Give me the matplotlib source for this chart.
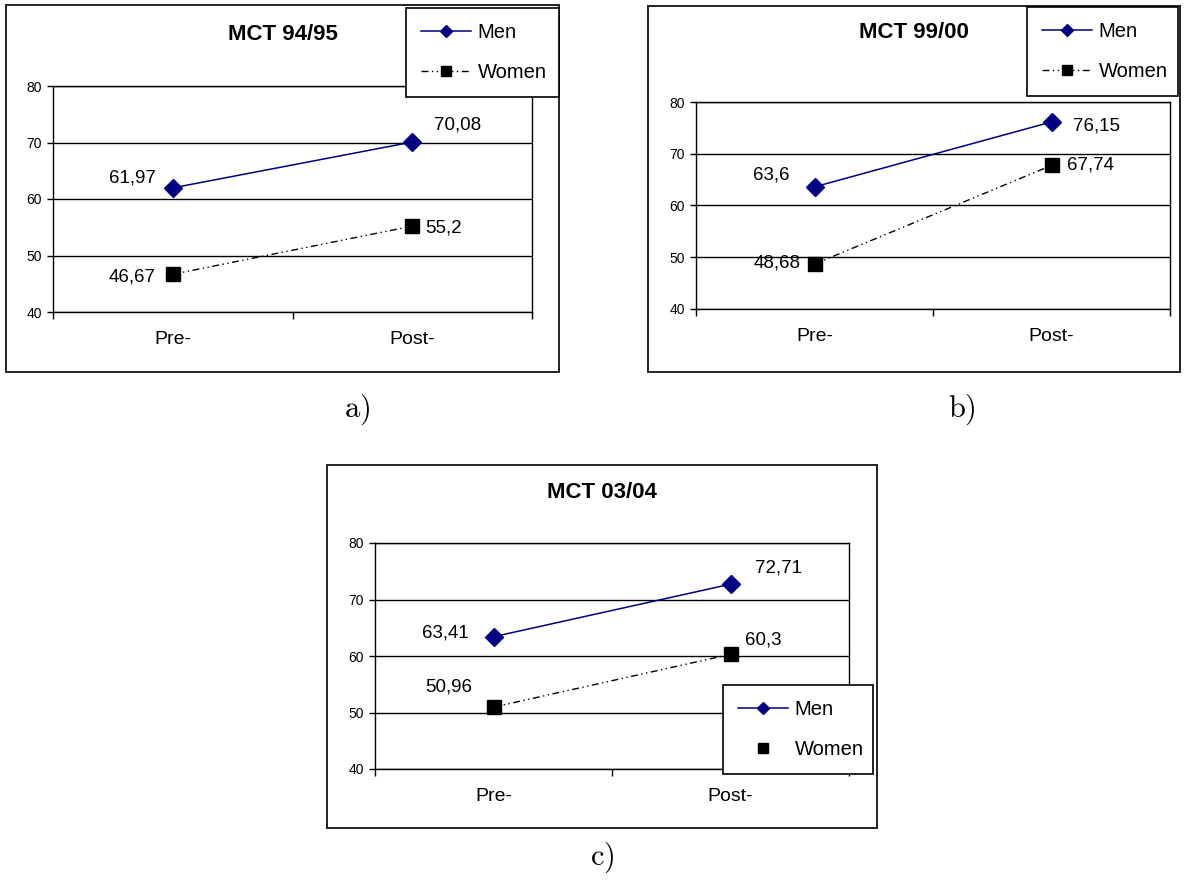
import matplotlib
matplotlib.use("Agg")
import matplotlib.pyplot as plt
from matplotlib.patches import Rectangle
from matplotlib.lines import Line2D

# ---------------- data ----------------
categories = ["Pre-", "Post-"]
titles = ["MCT 94/95", "MCT 99/00", "MCT 03/04"]
captions = ["a)", "b)", "c)"]
men_a = [61.97, 70.08]
women_a = [46.67, 55.2]
men_b = [63.6, 76.15]
women_b = [48.68, 67.74]
men_c = [63.41, 72.71]
women_c = [50.96, 60.3]
men_labels_a = ["61,97", "70,08"]
women_labels_a = ["46,67", "55,2"]
men_labels_b = ["63,6", "76,15"]
women_labels_b = ["48,68", "67,74"]
men_labels_c = ["63,41", "72,71"]
women_labels_c = ["50,96", "60,3"]
yticks = [40, 50, 60, 70, 80]
series_names = ["Men", "Women"]

# ---------------- layout (pixels) ----------------
W, H = 1194, 881
DPI = 100
plt.rcParams['font.family'] = ['Liberation Sans', 'DejaVu Sans']
plt.rcParams['mathtext.fontset'] = 'cm'

fig = plt.figure(figsize=(W / DPI, H / DPI), dpi=DPI)
fig.patch.set_facecolor('white')


def rect(l, t, r, b):
    return [l / W, 1 - b / H, (r - l) / W, (b - t) / H]


panels = [
    dict(frame=(6, 5, 559, 372), plot=(53, 86, 532, 312), legend=(406, 8, 559, 97),
         title_y=34, caption=(357, 410),
         men=men_a, women=women_a, ml=men_labels_a, wl=women_labels_a,
         moff=[(-17, 10, 'right'), (22, 17, 'left')],
         woff=[(-17, -3, 'right'), (13, -2, 'left')], women_leg_line=True),
    dict(frame=(648, 6, 1180, 372), plot=(696, 102, 1170, 309), legend=(1027, 7, 1178, 96),
         title_y=33, caption=(962, 410),
         men=men_b, women=women_b, ml=men_labels_b, wl=women_labels_b,
         moff=[(-25, 12, 'right'), (22, -4, 'left')],
         woff=[(-14, 1, 'right'), (15, 0, 'left')], women_leg_line=True),
    dict(frame=(327, 465, 877, 828), plot=(375, 543, 849, 769), legend=(723, 685, 873, 774),
         title_y=493, caption=(602, 858),
         men=men_c, women=women_c, ml=men_labels_c, wl=women_labels_c,
         moff=[(-25, 4, 'right'), (24, 16, 'left')],
         woff=[(-21, 20, 'right'), (14, 14, 'left')], women_leg_line=False),
]

MEN_COLOR = '#000080'
WOMEN_LS = (0, (5, 2.5, 1, 2.5, 1, 2.5))

for i, p in enumerate(panels):
    l, t, r, b = p['frame']
    fig.patches.append(Rectangle((l / W, 1 - b / H), (r - l) / W, (b - t) / H,
                                 transform=fig.transFigure, fill=False,
                                 edgecolor='#222222', linewidth=1.4, zorder=0))
    fig.text((l + r) / 2 / W, 1 - p['title_y'] / H, titles[i], ha='center', va='center',
             fontsize=16, fontweight='bold', color='black')
    cx, cy = p['caption']
    fig.text(cx / W, 1 - cy / H, r'$\mathrm{' + captions[i] + '}$', ha='center', va='center',
             fontsize=22, color='black')

    ax = fig.add_axes(rect(*p['plot']))
    x = list(range(len(categories)))
    ax.set_xlim(-0.5, len(categories) - 0.5)
    ax.set_ylim(40, 80)
    ax.set_yticks(yticks)
    ax.set_yticklabels([str(v) for v in yticks], fontsize=10)
    ax.tick_params(axis='y', direction='out', length=4, width=1, pad=4, colors='black')
    ax.set_xticks([-0.5, 0.5, 1.5])
    ax.set_xticklabels([])
    ax.tick_params(axis='x', which='major', direction='out', length=5, width=1)
    ax.set_xticks(x, minor=True)
    ax.set_xticklabels(categories, minor=True, fontsize=14)
    ax.tick_params(axis='x', which='minor', length=0, pad=14)
    ax.yaxis.grid(True, color='black', linewidth=1)
    ax.set_axisbelow(True)
    for s in ax.spines.values():
        s.set_color('black')
        s.set_linewidth(1)

    ax.plot(x, p['men'], color=MEN_COLOR, linewidth=1.1, marker='D', markersize=9,
            markerfacecolor=MEN_COLOR, markeredgecolor=MEN_COLOR, zorder=4, clip_on=False)
    ax.plot(x, p['women'], color='black', linewidth=1.0, linestyle=WOMEN_LS,
            marker='s', markersize=10, markerfacecolor='black', markeredgecolor='black',
            zorder=4, clip_on=False)

    for j in x:
        dx, dy, ha = p['moff'][j]
        ax.annotate(p['ml'][j], (j, p['men'][j]), xytext=(dx, dy), textcoords='offset pixels',
                    ha=ha, va='center', fontsize=13.5, color='black')
        dx, dy, ha = p['woff'][j]
        ax.annotate(p['wl'][j], (j, p['women'][j]), xytext=(dx, dy), textcoords='offset pixels',
                    ha=ha, va='center', fontsize=13.5, color='black')

    # legend
    h_m = Line2D([], [], color=MEN_COLOR, linewidth=1.1, marker='D', markersize=6,
                 markerfacecolor=MEN_COLOR, markeredgecolor=MEN_COLOR)
    if p['women_leg_line']:
        h_w = Line2D([], [], color='black', linewidth=1.0, linestyle=WOMEN_LS, marker='s',
                     markersize=7, markerfacecolor='black')
    else:
        h_w = Line2D([], [], color='none', linewidth=0, marker='s', markersize=7,
                     markerfacecolor='black', markeredgecolor='black')
    ll, lt, lr, lb = p['legend']
    leg = fig.legend([h_m, h_w], series_names, loc='center',
                     bbox_to_anchor=rect(ll, lt, lr, lb), bbox_transform=fig.transFigure,
                     mode='expand', fontsize=14.5, frameon=True, fancybox=False,
                     handlelength=2.5, handletextpad=0.3, labelspacing=1.05,
                     borderpad=0.75, borderaxespad=0)
    fr = leg.get_frame()
    fr.set_edgecolor('black')
    fr.set_linewidth(1.2)
    fr.set_facecolor('white')
    fr.set_alpha(1)

fig.savefig('out.png', dpi=DPI, facecolor='white')
